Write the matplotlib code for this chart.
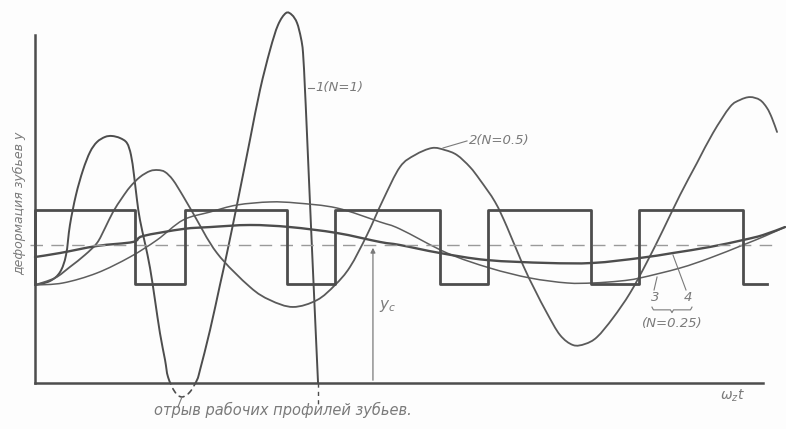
import numpy as np
import matplotlib.pyplot as plt
from matplotlib.patches import Rectangle, PathPatch
from matplotlib.path import Path

# x in mesh periods (omega_z t), y relative to static deflection y_c = 1

# square wave - tooth pair stiffness change
sq_edges = [0.0, 0.667, 1.0, 1.68, 2.0, 2.70, 3.02, 3.71, 4.03, 4.72, 4.88]
sq_high = 1.254
sq_low = 0.717

# curve 1 (N=1)
x1 = [0, 0.10, 0.167, 0.207, 0.233, 0.273, 0.32, 0.367, 0.413, 0.467, 0.513,
      0.567, 0.613, 0.64, 0.66, 0.68, 0.70, 0.733, 0.767, 0.80, 0.833, 0.867,
      0.887, 0.933, 0.98, 1.033, 1.08, 1.10, 1.167, 1.233, 1.28, 1.353, 1.433,
      1.50, 1.567, 1.62, 1.673, 1.713, 1.747, 1.773, 1.787, 1.80, 1.813, 1.847,
      1.887]
y1 = [0.71, 0.739, 0.804, 0.928, 1.145, 1.362, 1.543, 1.674, 1.746, 1.783, 1.79,
      1.775, 1.739, 1.652, 1.507, 1.326, 1.181, 1.014, 0.833, 0.601, 0.362, 0.167,
      0.043, -0.065, -0.101, -0.065, 0.022, 0.094, 0.384, 0.71, 0.942, 1.326, 1.761,
      2.123, 2.413, 2.594, 2.681, 2.667, 2.609, 2.50, 2.391, 2.123, 1.812, 0.964,
      0.0]

# curve 2 (N=0.5)
x2 = [0, 0.133, 0.233, 0.333, 0.413, 0.467, 0.52, 0.58, 0.633, 0.70, 0.767,
      0.82, 0.867, 0.92, 0.987, 1.053, 1.213, 1.433, 1.567, 1.72, 1.88, 2.0,
      2.10, 2.213, 2.32, 2.433, 2.533, 2.647, 2.733, 2.813, 2.90, 2.967, 3.067,
      3.147, 3.253, 3.333, 3.413, 3.50, 3.587, 3.667, 3.747, 3.853, 3.967, 4.08,
      4.187, 4.30, 4.413, 4.52, 4.633, 4.70, 4.767, 4.833, 4.88, 4.913, 4.947]
y2 = [0.71, 0.761, 0.841, 0.928, 1.014, 1.123, 1.239, 1.341, 1.42, 1.493, 1.536,
      1.543, 1.529, 1.471, 1.355, 1.232, 0.942, 0.696, 0.601, 0.551, 0.601, 0.71,
      0.841, 1.072, 1.326, 1.565, 1.652, 1.703, 1.688, 1.652, 1.565, 1.471, 1.312,
      1.13, 0.855, 0.674, 0.507, 0.348, 0.275, 0.283, 0.333, 0.471, 0.652, 0.877,
      1.109, 1.362, 1.594, 1.812, 2.0, 2.051, 2.072, 2.051, 1.993, 1.92, 1.819]

# curve 3 (N=0.25)
x3 = [0, 0.187, 0.413, 0.633, 0.813, 0.987, 1.167, 1.347, 1.567, 1.747, 2.013,
      2.30, 2.433, 2.747, 3.033, 3.30, 3.547, 3.72, 3.90, 4.033, 4.30, 4.50,
      4.72, 4.867, 5.0]
y3 = [0.71, 0.725, 0.797, 0.913, 1.036, 1.181, 1.239, 1.29, 1.312, 1.304, 1.268,
      1.167, 1.116, 0.942, 0.833, 0.761, 0.725, 0.725, 0.739, 0.761, 0.833, 0.906,
      1.0, 1.065, 1.13]

# curve 4 (N=0.25)
x4 = [0, 0.167, 0.413, 0.653, 0.72, 0.987, 1.167, 1.433, 1.70, 2.013, 2.30,
      2.433, 2.70, 3.013, 3.413, 3.72, 4.033, 4.253, 4.50, 4.72, 4.853, 5.0]
y4 = [0.913, 0.942, 0.993, 1.022, 1.065, 1.116, 1.13, 1.145, 1.13, 1.087, 1.022,
      1.0, 0.942, 0.891, 0.87, 0.87, 0.906, 0.942, 0.986, 1.036, 1.072, 1.13]

y_c = 1.0
x_yc = 2.253
x_axis_end = 4.853
y_axis_top = 2.52

ink = '#4d4d4d'
pale = '#7a7a7a'


def smooth_path(xs, ys):
    # Catmull-Rom through the read points, drawn as cubic Beziers
    p = np.column_stack([xs, ys])
    n = len(p)
    verts = [p[0]]
    codes = [Path.MOVETO]
    for i in range(n - 1):
        p0 = p[max(i - 1, 0)]
        p1 = p[i]
        p2 = p[i + 1]
        p3 = p[min(i + 2, n - 1)]
        verts += [p1 + (p2 - p0) / 6, p2 - (p3 - p1) / 6, p2]
        codes += [Path.CURVE4] * 3
    return Path(verts, codes)


def draw_curve(xs, ys, **kw):
    patch = PathPatch(smooth_path(xs, ys), fill=False, capstyle='round', **kw)
    ax.add_patch(patch)
    return patch


fig = plt.figure(figsize=(7.86, 4.29), dpi=100)
fig.patch.set_facecolor('#fdfdfd')
ax = fig.add_axes([0, 0, 1, 1])
ax.set_xlim(-0.2333, 5.0067)
ax.set_ylim(-0.3333, 2.7754)
ax.axis('off')

# axes
ax.plot([0, 0], [0, y_axis_top], color=ink, lw=1.8)
ax.plot([0, x_axis_end], [0, 0], color=ink, lw=1.8)

# static level
ax.plot([-0.03, 4.92], [y_c, y_c], color='#9a9a9a', lw=1.0, dashes=(9, 6))

# square wave
sx = [sq_edges[0]]
sy = [sq_low]
level = sq_high
for e0, e1 in zip(sq_edges[:-1], sq_edges[1:]):
    sx += [e0, e1]
    sy += [level, level]
    level = sq_low if level == sq_high else sq_high
ax.plot(sx, sy, color=ink, lw=2.0)

# curve 1: solid above axis, dashed below it
above = Rectangle((-1, 0), 10, 10, transform=ax.transData)
below = Rectangle((-1, -1), 10, 1, transform=ax.transData)
c1 = draw_curve(x1, y1, edgecolor=ink, lw=1.4)
c1.set_clip_path(above)
c1d = draw_curve(x1, y1, edgecolor=ink, lw=1.2, linestyle=(0, (3, 3)))
c1d.set_clip_path(below)
ax.plot([x1[-1], x1[-1]], [0, -0.17], color=ink, lw=1.0, dashes=(3, 3))

draw_curve(x2, y2, edgecolor='#5a5a5a', lw=1.3)
draw_curve(x3, y3, edgecolor='#5e5e5e', lw=1.1)
draw_curve(x4, y4, edgecolor=ink, lw=1.7)

# y_c marker
ax.annotate('', xy=(x_yc, y_c), xytext=(x_yc, 0),
            arrowprops=dict(arrowstyle='-|>', color=pale, lw=0.9,
                            mutation_scale=7))
ax.text(x_yc + 0.04, 0.56, r'$y_c$', fontsize=11, color=pale,
        ha='left', va='center')

# curve labels
hand = dict(color=pale, style='italic', fontsize=9.5)
ax.plot([1.82, 1.86], [2.138, 2.138], color=pale, lw=0.8)
ax.text(1.867, 2.138, '1(N=1)', ha='left', va='center', **hand)
ax.plot([2.72, 2.88], [1.703, 1.754], color=pale, lw=0.8)
ax.text(2.893, 1.754, '2(N=0.5)', ha='left', va='center', **hand)

ax.plot([4.147, 4.127], [0.768, 0.674], color=pale, lw=0.8)
ax.plot([4.253, 4.34], [0.928, 0.674], color=pale, lw=0.8)
ax.text(4.133, 0.616, '3', ha='center', va='center', **hand)
ax.text(4.353, 0.616, '4', ha='center', va='center', **hand)
bx0, bx1, by = 4.113, 4.38, 0.53
bm = (bx0 + bx1) / 2
ax.plot([bx0, bx0 + 0.01, bm - 0.01, bm, bm + 0.01, bx1 - 0.01, bx1],
        [by + 0.02, by, by, by - 0.02, by, by, by + 0.02], color=pale, lw=0.8)
ax.text(bm, 0.428, '(N=0.25)', ha='center', va='center', **hand)

# separation note
ax.plot([0.98, 0.953], [-0.101, -0.174], color=pale, lw=0.8)
ax.text(1.653, -0.196, 'отрыв рабочих профилей зубьев.', ha='center',
        va='center', **dict(hand, fontsize=10.5))

ax.text(4.647, -0.09, r'$\omega_z t$', ha='center', va='center',
        fontsize=10, color=pale)
ax.text(-0.1, 1.30, 'деформация зубьев y', rotation=90, ha='center',
        va='center', **dict(hand, fontsize=9))

fig.savefig('out.png', dpi=100, facecolor=fig.get_facecolor())
